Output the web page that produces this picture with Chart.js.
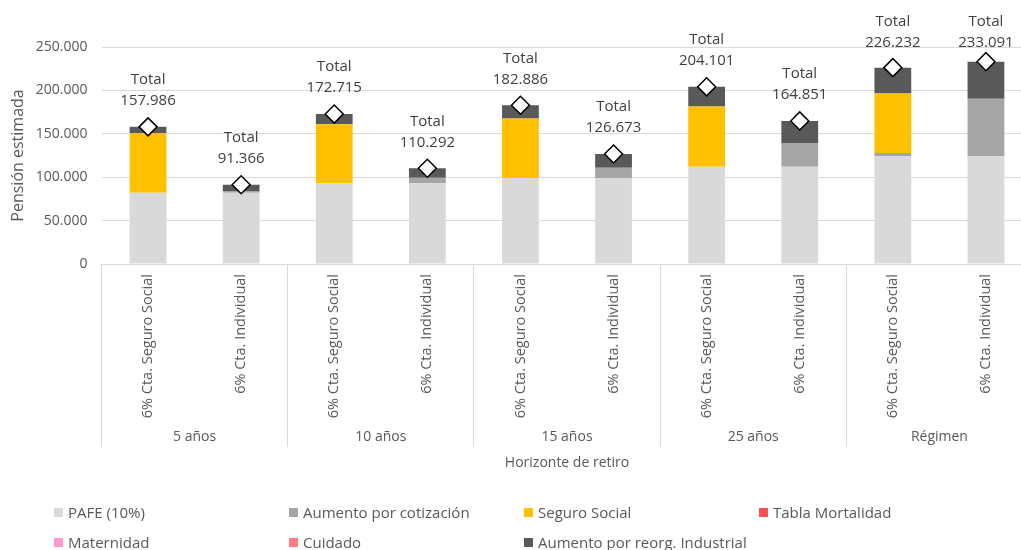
<!DOCTYPE html>
<html>
<head>
<meta charset="utf-8">
<script src="https://cdn.jsdelivr.net/npm/chart.js@4/dist/chart.umd.min.js"></script>
<style>
html,body{margin:0;padding:0;background:#fff;overflow:hidden;width:1021px;height:550px;}
#wrap{position:absolute;left:0;top:0;width:1043px;height:490px;}
#legend{position:absolute;left:0;top:0;width:1021px;height:550px;font-family:'Open Sans',sans-serif;font-size:15px;color:#595959;pointer-events:none;}
.item{position:absolute;height:20px;line-height:20px;display:flex;align-items:center;white-space:nowrap;}
.sw{width:9px;height:9px;margin-right:5px;flex:none;}
</style>
</head>
<body>
<div id="wrap"><canvas id="c"></canvas></div>
<div id="legend"></div>
<script>
// ---- data ----
const groups = ['5 años', '10 años', '15 años', '25 años', 'Régimen'];
const subCategories = [
  '6% Cta. Seguro Social', '6% Cta. Individual',
  '6% Cta. Seguro Social', '6% Cta. Individual',
  '6% Cta. Seguro Social', '6% Cta. Individual',
  '6% Cta. Seguro Social', '6% Cta. Individual',
  '6% Cta. Seguro Social', '6% Cta. Individual'
];
const seriesNames = ['PAFE (10%)', 'Aumento por cotización', 'Seguro Social', 'Tabla Mortalidad', 'Maternidad', 'Cuidado', 'Aumento por reorg. Industrial'];
const pafe              = [82000, 82000, 93000, 93000, 99000, 99000, 112000, 112000, 124000, 124000];
const aumentoCotizacion = [0, 2000, 0, 6500, 0, 12000, 0, 27500, 4000, 66500];
const seguroSocial      = [68500, 0, 68000, 0, 68500, 0, 69500, 0, 68500, 0];
const tablaMortalidad   = [0, 0, 0, 0, 0, 0, 0, 0, 0, 0];
const maternidad        = [0, 0, 0, 0, 0, 0, 0, 0, 0, 0];
const cuidado           = [0, 0, 0, 0, 0, 0, 0, 0, 0, 0];
const reorgIndustrial   = [7486, 7366, 11715, 10792, 15386, 15673, 22601, 25351, 29732, 42591];
const totals            = [157986, 91366, 172715, 110292, 182886, 126673, 204101, 164851, 226232, 233091];
const yTickValues       = [0, 50000, 100000, 150000, 200000, 250000];

const seriesColors = ['#D9D9D9', '#A5A5A5', '#FFC000', '#FF5050', '#FF99CC', '#FF7C80', '#595959'];
const seriesData = [pafe, aumentoCotizacion, seguroSocial, tablaMortalidad, maternidad, cuidado, reorgIndustrial];

const fmt = v => String(v).replace(/\B(?=(\d{3})+(?!\d))/g, '.');

Chart.defaults.font.family = "'Open Sans', sans-serif";
Chart.defaults.color = '#595959';

const datasets = [{
  type: 'line',
  label: 'Total',
  data: totals,
  stack: 'totals',
  showLine: false,
  pointStyle: 'rectRot',
  pointRadius: 9,
  pointHoverRadius: 9,
  pointBackgroundColor: '#FFFFFF',
  pointBorderColor: '#000000',
  pointBorderWidth: 1.5,
  order: 0
}];
seriesNames.forEach((name, i) => {
  datasets.push({
    type: 'bar',
    label: name,
    data: seriesData[i],
    backgroundColor: seriesColors[i],
    stack: 'bars',
    order: 1,
    barPercentage: 0.395,
    categoryPercentage: 1
  });
});

const sepColor = ctx => (ctx.index === undefined || ctx.index % 2 === 0) ? '#D9D9D9' : 'rgba(0,0,0,0)';

const totalLabels = {
  id: 'totalLabels',
  afterDatasetsDraw(chart) {
    const meta = chart.getDatasetMeta(0);
    const c = chart.ctx;
    c.save();
    c.font = "15px 'Open Sans', sans-serif";
    c.fillStyle = '#404040';
    c.textAlign = 'center';
    c.textBaseline = 'middle';
    meta.data.forEach((pt, i) => {
      const ty = Math.max(pt.y - 47, 22);
      c.fillText('Total', pt.x, ty);
      c.fillText(fmt(totals[i]), pt.x, ty + 21);
    });
    c.restore();
  }
};

const htmlLegend = {
  id: 'htmlLegend',
  afterUpdate(chart) {
    const box = document.getElementById('legend');
    box.innerHTML = '';
    const cols = [54, 289, 524, 759];
    const rows = [502, 532];
    let k = 0;
    chart.data.datasets.forEach(ds => {
      if (ds.type !== 'bar') return;
      const d = document.createElement('div');
      d.className = 'item';
      d.style.left = cols[k % 4] + 'px';
      d.style.top = rows[Math.floor(k / 4)] + 'px';
      const s = document.createElement('span');
      s.className = 'sw';
      s.style.background = ds.backgroundColor;
      const t = document.createElement('span');
      t.textContent = ds.label;
      d.appendChild(s); d.appendChild(t);
      box.appendChild(d);
      k++;
    });
  }
};

new Chart(document.getElementById('c'), {
  data: { labels: subCategories, datasets },
  options: {
    responsive: true,
    maintainAspectRatio: false,
    animation: false,
    layout: { padding: { top: 47, left: 9, right: 3.5, bottom: 17 } },
    plugins: {
      legend: { display: false },
      tooltip: { enabled: false }
    },
    scales: {
      x: {
        type: 'category',
        position: 'bottom',
        stacked: true,
        offset: true,
        weight: 0,
        border: { display: false },
        grid: {
          offset: true,
          drawOnChartArea: false,
          drawTicks: true,
          tickLength: 183,
          tickWidth: 1,
          color: sepColor,
          tickColor: sepColor
        },
        afterFit: scale => { scale.height = 155; },
        ticks: {
          autoSkip: false,
          minRotation: 90,
          maxRotation: 90,
          padding: -173,
          color: '#595959',
          font: { size: 14.5 }
        }
      },
      x2: {
        type: 'category',
        labels: groups,
        position: 'bottom',
        offset: true,
        weight: 1,
        border: { display: false },
        grid: { display: false, drawTicks: false },
        afterFit: scale => { scale.height = 54; },
        ticks: { padding: 10, color: '#595959', font: { size: 14 } },
        title: {
          display: true,
          text: 'Horizonte de retiro',
          color: '#595959',
          font: { size: 14 },
          padding: { top: 8, bottom: 2 }
        }
      },
      y: {
        stacked: true,
        min: 0,
        max: 250000,
        border: { display: false },
        grid: { color: '#D9D9D9', drawTicks: false },
        afterBuildTicks: scale => { scale.ticks = yTickValues.map(v => ({ value: v })); },
        afterFit: scale => { scale.width = 92.5; },
        ticks: {
          padding: 14,
          color: '#595959',
          font: { size: 14 },
          callback: v => fmt(v)
        },
        title: {
          display: true,
          text: 'Pensión estimada',
          color: '#595959',
          font: { size: 16 },
          padding: { top: 0, bottom: 6 }
        }
      }
    }
  },
  plugins: [totalLabels, htmlLegend]
});
</script>
</body>
</html>
